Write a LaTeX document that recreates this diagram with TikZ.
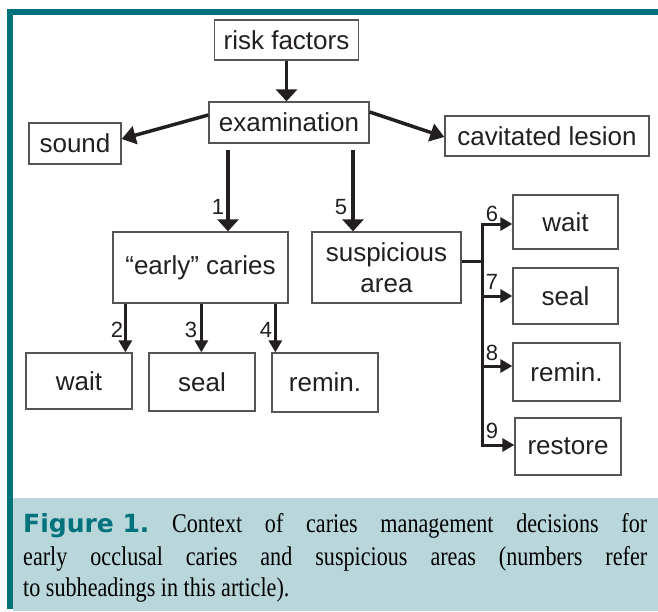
\documentclass[tikz,border=0pt]{standalone}
\usepackage{fontspec}
\setmainfont{Liberation Sans}
\newfontfamily\capfont[FakeStretch=0.82]{Liberation Serif}
\newfontfamily\figfont{DejaVu Sans}
\usetikzlibrary{arrows.meta,calc}
\definecolor{teal1}{HTML}{00727C}
\definecolor{capbg}{HTML}{B9D7DB}
\definecolor{ink}{HTML}{231F20}
\definecolor{boxline}{HTML}{555555}
\tikzset{
  box/.style={draw=boxline, line width=1.3pt, inner sep=0pt, text=ink,
    font=\fontsize{26}{31}\selectfont, align=center},
  bigarr/.style={draw=ink, line width=3.8pt, -{Triangle[width=21pt,length=12pt]}},
  midarr/.style={draw=ink, line width=3.5pt, -{Triangle[width=18pt,length=14pt]}},
  smallarr/.style={draw=ink, line width=3pt, -{Triangle[width=13pt,length=12pt]}},
  num/.style={text=ink, inner sep=0pt, font=\fontsize{22}{22}\selectfont},
  capline/.style={anchor=base west, inner sep=0pt, text=black,
    font=\capfont\fontsize{27}{31}\selectfont}
}
\begin{document}
\begin{tikzpicture}[x=1pt,y=-1pt]
\useasboundingbox (0,0) rectangle (658,611);
% frame and caption background
\fill[capbg] (13,498) rectangle (658,611);
\fill[teal1] (7,9) rectangle (658,15);
\fill[teal1] (7,9) rectangle (13,609);

% boxes
\node[box, minimum width=144pt, minimum height=40pt] (risk) at (286.5,40) {risk factors};
\node[box, minimum width=160pt, minimum height=41pt] (exam) at (289,122.5) {examination};
\node[box, minimum width=92pt, minimum height=41pt] (sound) at (75,143.5) {sound};
\node[box, minimum width=204pt, minimum height=40pt] (cav) at (547,136) {cavitated lesion};
\node[box, minimum width=175pt, minimum height=71pt] (early) at (200.5,267.5) {“early” caries};
\node[box, minimum width=149pt, minimum height=71pt] (susp) at (386.5,267.5) {suspicious\\area};
\node[box, minimum width=106pt, minimum height=56pt] (waitL) at (79,381) {wait};
\node[box, minimum width=106pt, minimum height=58pt] (sealL) at (202,382) {seal};
\node[box, minimum width=106pt, minimum height=59pt] (reminL) at (325,382.5) {remin.};
\node[box, minimum width=105pt, minimum height=54pt] (waitR) at (565.5,222) {wait};
\node[box, minimum width=105pt, minimum height=56pt] (sealR) at (565.5,296) {seal};
\node[box, minimum width=107pt, minimum height=58pt] (reminR) at (566.5,372) {remin.};
\node[box, minimum width=106pt, minimum height=57pt] (restore) at (568,446.5) {restore};

% top arrows
\draw[bigarr] (risk.south) -- (risk.south |- exam.north);
\draw[midarr] ([yshift=7.5pt]exam.west) -- ([yshift=4.5pt]sound.east);
\draw[midarr] ([yshift=10.5pt]exam.east) -- ([yshift=-1pt]cav.west);

% arrows 1 and 5
\coordinate (c1) at (228,150);
\coordinate (c5) at (353,150);
\draw[bigarr] (c1) -- (c1 |- early.north);
\draw[bigarr] (c5) -- (c5 |- susp.north);
\node[num] (n1) at (218,207) {1};
\node[num] (n5) at (341,207) {5};

% arrows 2,3,4
\coordinate (a2) at ($(early.south west)+(13,0)$);
\coordinate (a3) at ($(early.south west)+(89,0)$);
\coordinate (a4) at ($(early.south west)+(163,0)$);
\draw[smallarr] (a2) -- (a2 |- waitL.north);
\draw[smallarr] (a3) -- (a3 |- sealL.north);
\draw[smallarr] (a4) -- (a4 |- reminL.north);
\node[num] (n2) at (117,330) {2};
\node[num] (n3) at (191,330) {3};
\node[num] (n4) at (266,330) {4};

% right bus
\coordinate (bm) at (482,261);
\coordinate (bt) at (482,224);
\coordinate (b7) at (482,296);
\coordinate (b8) at (482,366);
\coordinate (bb) at (482,445);
\draw[draw=ink, line width=3pt] ([yshift=6.5pt]susp.east) -- (bm);
\draw[draw=ink, line width=3pt, line join=miter,
  {Triangle[width=13pt,length=12pt]}-{Triangle[width=13pt,length=12pt]}]
  (bt -| waitR.west) -- (bt) -- (bb) -- (bb -| restore.west);
\draw[smallarr] (b7) -- (b7 -| sealR.west);
\draw[smallarr] (b8) -- (b8 -| reminR.west);
\node[num] (n6) at (492,214) {6};
\node[num] (n7) at (492,282) {7};
\node[num] (n8) at (492,353) {8};
\node[num] (n9) at (492,431) {9};

% caption
\node[capline] (cap1) at (23,532) {\makebox[624pt][s]{\mbox{\figfont\bfseries\fontsize{25}{26}\selectfont\color{teal1}Figure 1.} Context of caries management decisions for}};
\node[capline] (cap2) at (23,565) {\makebox[624pt][s]{early occlusal caries and suspicious areas (numbers refer}};
\node[capline] (cap3) at (23,596) {to subheadings in this article).};
\end{tikzpicture}
\end{document}
